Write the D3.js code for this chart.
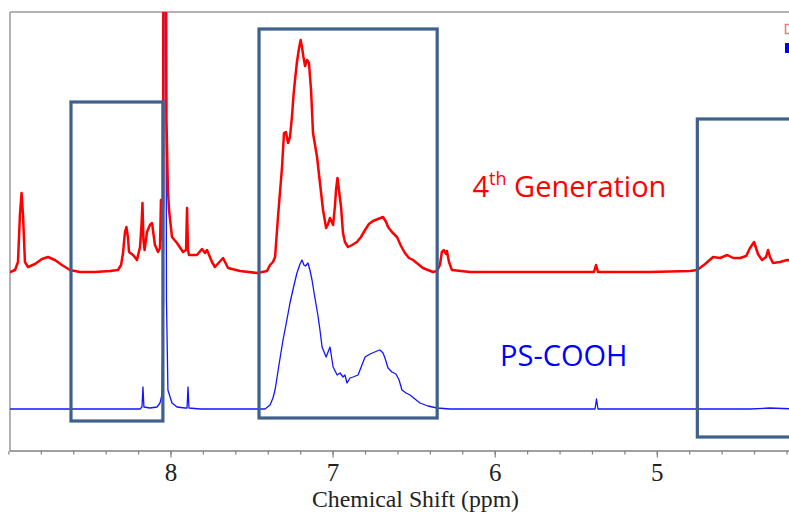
<!DOCTYPE html>
<html>
<head>
<meta charset="utf-8">
<script src="https://d3js.org/d3.v7.min.js"></script>
<style>
  body { margin: 0; background: #fff; }
  svg { display: block; }
</style>
</head>
<body>
<script>
// spectra: [ppm, intensity]
var redSpectrum = [
  [9.05,-2],[8.993,-2],[8.962,0],[8.944,8],[8.932,55],[8.922,77],[8.913,55],[8.901,8],[8.882,3],
  [8.839,6],[8.796,11],[8.759,13],[8.716,10],[8.673,5],[8.623,0],[8.562,-2],[8.469,-2],[8.376,-1],
  [8.327,0],[8.308,5],[8.296,17],[8.284,38],[8.275,43],[8.265,32],[8.259,18],[8.234,15],[8.210,10],
  [8.191,23],[8.182,45],[8.176,67],[8.170,30],[8.163,20],[8.148,38],[8.130,45],[8.117,47],[8.099,25],
  [8.080,18],[8.068,22],[8.062,70],[8.056,30],[8.049,70],[8.044,700],[8.037,700],[8.028,150],
  [8.019,80],[8.012,60],[7.994,33],[7.963,27],[7.926,18],[7.907,20],[7.901,62],[7.895,20],[7.889,15],
  [7.840,15],[7.809,21],[7.790,17],[7.778,20],[7.747,8],[7.729,3],[7.679,12],[7.648,2],[7.574,-1],
  [7.469,-3],[7.408,-1],[7.389,5],[7.371,8],[7.358,13],[7.340,53],[7.315,103],[7.303,137],[7.291,138],
  [7.278,127],[7.266,133],[7.254,153],[7.244,175],[7.235,190],[7.223,208],[7.210,222],[7.200,230],
  [7.192,223],[7.183,213],[7.173,204],[7.161,210],[7.149,207],[7.136,180],[7.124,137],[7.099,113],
  [7.081,87],[7.062,60],[7.043,42],[7.031,46],[7.019,52],[7.000,45],[6.988,65],[6.982,80],[6.973,92],
  [6.964,80],[6.951,63],[6.939,37],[6.927,28],[6.908,23],[6.883,25],[6.853,28],[6.828,33],[6.803,40],
  [6.779,46],[6.754,49],[6.723,51],[6.692,53],[6.673,48],[6.661,43],[6.637,38],[6.606,33],[6.581,24],
  [6.557,17],[6.532,12],[6.507,10],[6.476,6],[6.446,2],[6.415,0],[6.384,-2],[6.359,-1],[6.341,5],
  [6.329,18],[6.316,20],[6.304,16],[6.298,19],[6.285,8],[6.267,0],[6.156,-2],[5.970,-2],[5.662,-2],
  [5.391,-2],[5.378,5],[5.366,-2],[5.045,-2],[4.798,-1],[4.754,0],[4.705,6],[4.656,13],[4.613,12],
  [4.569,15],[4.532,12],[4.489,12],[4.452,14],[4.428,22],[4.403,28],[4.379,16],[4.354,10],[4.329,13],
  [4.317,20],[4.305,13],[4.286,7],[4.243,8],[4.200,10],[4.150,9]
];
var blueSpectrum = [
  [9.05,0],[8.993,0],[8.438,0],[8.191,0],[8.179,2],[8.173,22],[8.167,2],[8.130,1],[8.086,2],[8.068,6],
  [8.056,14],[8.046,109],[8.040,700],[8.034,700],[8.028,109],[8.019,19],[7.994,6],[7.963,2],[7.914,1],
  [7.901,1],[7.895,22],[7.889,1],[7.821,0],[7.420,0],[7.389,4],[7.371,11],[7.358,19],[7.334,44],
  [7.309,69],[7.291,84],[7.266,106],[7.241,124],[7.223,136],[7.204,145],[7.192,149],[7.180,144],
  [7.170,143],[7.155,146],[7.143,139],[7.130,129],[7.112,111],[7.094,94],[7.081,79],[7.068,62],
  [7.043,52],[7.031,57],[7.019,62],[7.000,42],[6.975,34],[6.957,36],[6.939,32],[6.927,34],[6.914,26],
  [6.896,31],[6.877,32],[6.846,34],[6.822,44],[6.803,52],[6.772,55],[6.729,58],[6.711,59],[6.692,56],
  [6.680,51],[6.661,41],[6.637,37],[6.612,35],[6.593,29],[6.575,19],[6.550,16],[6.526,14],[6.495,10],
  [6.464,6],[6.415,3],[6.359,1],[6.279,0],[5.384,0],[5.375,10],[5.366,0],[4.428,0],[4.305,1],[4.150,0]
];
var redOffset = 139;

// highlighted regions: [ppm left, ppm right, top, bottom]
var boxes = [
  [8.617, 8.050, 307, -12],
  [7.457, 6.358, 380, -9],
  [4.753, 4.170, 290, -28]
];

var majorTicks = [8, 7, 6, 5];
var minorTicks = d3.range(9.0, 4.1, -0.2).map(function(d) { return +d.toFixed(1); });

var labels = [
  {text: "4", sup: "th", rest: " Generation", ppm: 6.14, y: 212, color: "#ff0000"},
  {text: "PS-COOH", ppm: 5.97, y: 43, color: "#0000ff"}
];

var width = 789, height = 516;
var plotLeft = 10, plotTop = 12, plotBottom = 451;

var x = d3.scaleLinear().domain([8, 5]).range([171, 657.3]);
var y = d3.scaleLinear().domain([0, 397]).range([409, 12]);

var svg = d3.select("body").append("svg")
    .attr("width", width)
    .attr("height", height);

svg.append("defs").append("clipPath").attr("id", "plotclip")
  .append("rect")
    .attr("x", plotLeft).attr("y", plotTop)
    .attr("width", width - plotLeft).attr("height", plotBottom - plotTop);

// frame
svg.append("line")
    .attr("x1", plotLeft).attr("x2", width).attr("y1", plotTop).attr("y2", plotTop)
    .style("stroke", "#9a9a9a").style("stroke-width", 1.5);
svg.append("line")
    .attr("x1", plotLeft).attr("x2", plotLeft).attr("y1", plotTop).attr("y2", plotBottom)
    .style("stroke", "#9a9a9a").style("stroke-width", 1.5);

// axis
var axis = svg.append("g").attr("transform", "translate(0," + plotBottom + ")");
axis.append("line")
    .attr("x1", plotLeft).attr("x2", width).attr("y1", 0).attr("y2", 0)
    .style("stroke", "#808080").style("stroke-width", 1.5);
axis.selectAll(".minor")
  .data(minorTicks)
  .enter().append("line")
    .attr("class", "minor")
    .attr("x1", x).attr("x2", x)
    .attr("y1", 0).attr("y2", 3.5)
    .style("stroke", "#808080").style("stroke-width", 1.2);
axis.selectAll(".major")
  .data(majorTicks)
  .enter().append("line")
    .attr("class", "major")
    .attr("x1", x).attr("x2", x)
    .attr("y1", 0).attr("y2", 6.5)
    .style("stroke", "#808080").style("stroke-width", 1.2);
axis.selectAll("text")
  .data(majorTicks)
  .enter().append("text")
    .attr("x", x).attr("y", 29.5)
    .attr("text-anchor", "middle")
    .style("font-family", "'Liberation Serif', 'Times New Roman', serif")
    .style("font-size", "25px")
    .style("fill", "#222")
    .text(function(d) { return d; });

svg.append("text")
    .attr("x", 415.5).attr("y", 506.5)
    .attr("text-anchor", "middle")
    .attr("textLength", 207)
    .attr("lengthAdjust", "spacingAndGlyphs")
    .style("font-family", "'Liberation Serif', 'Times New Roman', serif")
    .style("font-size", "23px")
    .style("fill", "#222")
    .text("Chemical Shift (ppm)");

// spectra
var plot = svg.append("g").attr("clip-path", "url(#plotclip)");

var redLine = d3.line()
    .x(function(d) { return x(d[0]); })
    .y(function(d) { return y(d[1] + redOffset); });
var blueLine = d3.line()
    .x(function(d) { return x(d[0]); })
    .y(function(d) { return y(d[1]); });

plot.append("path")
    .datum(blueSpectrum)
    .attr("d", blueLine)
    .style("fill", "none")
    .style("stroke", "#1414ff")
    .style("stroke-width", 1.3)
    .style("stroke-linejoin", "round");

plot.append("path")
    .datum(redSpectrum)
    .attr("d", redLine)
    .style("fill", "none")
    .style("stroke", "#ff0000")
    .style("stroke-width", 2.5)
    .style("stroke-linejoin", "round");

// region boxes
svg.append("g").selectAll("rect")
  .data(boxes)
  .enter().append("rect")
    .attr("x", function(d) { return x(d[0]); })
    .attr("y", function(d) { return y(d[2]); })
    .attr("width", function(d) { return x(d[1]) - x(d[0]); })
    .attr("height", function(d) { return y(d[3]) - y(d[2]); })
    .style("fill", "none")
    .style("stroke", "#3f5f8c")
    .style("stroke-width", 3.2);

// labels
labels.forEach(function(l) {
  var t = svg.append("text")
      .attr("x", x(l.ppm)).attr("y", y(l.y))
      .style("font-family", "'Open Sans', sans-serif")
      .style("font-size", "29px")
      .style("fill", l.color);
  t.append("tspan").text(l.text);
  if (l.sup) {
    t.append("tspan").attr("dy", -12).style("font-size", "18px").text(l.sup);
    t.append("tspan").attr("dy", 12).text(l.rest);
  }
});

// clipped legend swatches at the right edge
svg.append("rect")
    .attr("x", 785.5).attr("y", 24.5).attr("width", 10).attr("height", 9)
    .style("fill", "#fff").style("stroke", "#ff7070").style("stroke-width", 1.5);
svg.append("rect")
    .attr("x", 785).attr("y", 43).attr("width", 10).attr("height", 10)
    .style("fill", "#0000ff");
</script>
</body>
</html>
